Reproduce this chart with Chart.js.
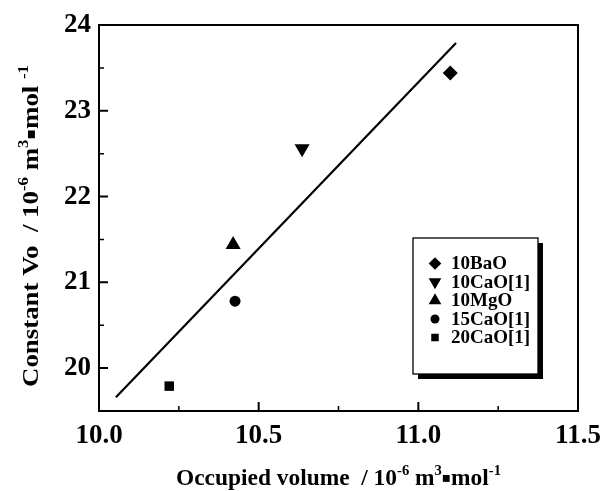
<!DOCTYPE html>
<html><head><meta charset="utf-8">
<script src="https://cdn.jsdelivr.net/npm/chart.js@4/dist/chart.umd.min.js"></script>
<style>html,body{margin:0;padding:0;background:#fff}#wrap{width:604px;height:491px;position:relative}</style>
</head><body><div id="wrap"><canvas id="c" width="604" height="491"></canvas></div>
<script>
// ---- data ----
const categories = ['10BaO', '10CaO[1]', '10MgO', '15CaO[1]', '20CaO[1]'];
const xValues = [11.10, 10.636, 10.42, 10.426, 10.22];
const yValues = [23.44, 22.56, 21.44, 20.78, 19.79];
const fitX = [10.053, 11.118];
const fitY = [19.66, 23.79];
const xTicks = [10.0, 10.5, 11.0, 11.5];
const yTicks = [20, 21, 22, 23, 24];
const xMinorTicks = [10.25, 10.75, 11.25];
const yMinorTicks = [20.5, 21.5, 22.5, 23.5];
const xTitle = [['Occupied volume  / 10', 0], ['-6', 1], [' m', 0], ['3', 1], ['\u25AA', 2], ['mol', 0], ['-1', 1]];
const yTitle = [['Constant Vo  / 10', 0], ['-6', 1], [' m', 0], ['3', 1], ['\u25AA', 2], ['mol ', 0], ['-1', 1]];

// ---- styles ----
const SERIF = '"Liberation Serif","Times New Roman",serif';
const markerStyle = [
  {pointStyle: 'rectRot', r: 7.5, rot: 0, lr: 6.3},
  {pointStyle: 'triangle', r: 8.7, rot: 180, lr: 7.3},
  {pointStyle: 'triangle', r: 8.7, rot: 0, lr: 7.3},
  {pointStyle: 'circle', r: 5.5, rot: 0, lr: 4.5},
  {pointStyle: 'rect', r: 6.7, rot: 0, lr: 5.3}
];

const datasets = categories.map((name, i) => ({
  label: name,
  data: [{x: xValues[i], y: yValues[i]}],
  pointStyle: markerStyle[i].pointStyle,
  pointRadius: markerStyle[i].r,
  pointRotation: markerStyle[i].rot,
  backgroundColor: '#000',
  borderColor: '#000',
  borderWidth: 0,
  showLine: false
}));
datasets.push({
  label: 'fit',
  data: fitX.map((x, i) => ({x, y: fitY[i]})),
  showLine: true,
  pointRadius: 0,
  borderColor: '#000',
  borderWidth: 2.2,
  fill: false
});

function drawShape(ctx, style, r, rot, x, y) {
  ctx.beginPath();
  if (style === 'circle') { ctx.arc(x, y, r, 0, Math.PI * 2); }
  else if (style === 'rect') { const s = Math.SQRT1_2 * r; ctx.rect(x - s, y - s, 2 * s, 2 * s); }
  else if (style === 'rectRot') { ctx.moveTo(x - r, y); ctx.lineTo(x, y - r); ctx.lineTo(x + r, y); ctx.lineTo(x, y + r); ctx.closePath(); }
  else if (style === 'triangle') {
    let a = rot * Math.PI / 180;
    ctx.moveTo(x + Math.sin(a) * r, y - Math.cos(a) * r);
    a += 2 * Math.PI / 3; ctx.lineTo(x + Math.sin(a) * r, y - Math.cos(a) * r);
    a += 2 * Math.PI / 3; ctx.lineTo(x + Math.sin(a) * r, y - Math.cos(a) * r);
    ctx.closePath();
  }
  ctx.fill();
}

function richWidth(ctx, segs, base, sup, dot) {
  let w = 0;
  segs.forEach(([t, k]) => { ctx.font = k === 0 ? base : (k === 1 ? sup : dot); w += ctx.measureText(t).width; });
  return w;
}
// draws rich text centered at (0,0) baseline, stretched to targetWidth along the text
function drawRich(ctx, segs, targetWidth, base, sup, dot) {
  const w = richWidth(ctx, segs, base, sup, dot);
  const sx = targetWidth / w;
  ctx.save();
  ctx.scale(sx, 1);
  let x = -w / 2;
  ctx.textAlign = 'left'; ctx.textBaseline = 'alphabetic'; ctx.fillStyle = '#000';
  segs.forEach(([t, k]) => {
    ctx.font = k === 0 ? base : (k === 1 ? sup : dot);
    const dy = k === 1 ? -10 : (k === 2 ? -3 : 0);
    ctx.fillText(t, x, dy);
    x += ctx.measureText(t).width;
  });
  ctx.restore();
}

const decor = {
  id: 'decor',
  afterDraw(chart) {
    const ctx = chart.ctx, a = chart.chartArea;
    const xs = chart.scales.x, ys = chart.scales.y;
    ctx.save();
    ctx.strokeStyle = '#000';
    ctx.lineWidth = 2;
    ctx.strokeRect(a.left, a.top, a.right - a.left, a.bottom - a.top);
    // inward ticks
    ctx.beginPath();
    xTicks.forEach(v => { const p = xs.getPixelForValue(v); ctx.moveTo(p, a.bottom); ctx.lineTo(p, a.bottom - 9); });
    yTicks.forEach(v => { const p = ys.getPixelForValue(v); ctx.moveTo(a.left, p); ctx.lineTo(a.left + 9, p); });
    ctx.stroke();
    ctx.lineWidth = 1.5;
    ctx.beginPath();
    xMinorTicks.forEach(v => { const p = xs.getPixelForValue(v); ctx.moveTo(p, a.bottom); ctx.lineTo(p, a.bottom - 5); });
    yMinorTicks.forEach(v => { const p = ys.getPixelForValue(v); ctx.moveTo(a.left, p); ctx.lineTo(a.left + 5, p); });
    ctx.stroke();

    // axis titles
    const base = 'bold 24px ' + SERIF, sup = 'bold 15px ' + SERIF, dot = 'bold 14px "DejaVu Sans",sans-serif';
    ctx.save();
    ctx.translate((a.left + a.right) / 2, 485);
    drawRich(ctx, xTitle, 325, base, sup, dot);
    ctx.restore();
    ctx.save();
    ctx.translate(38, 226);
    ctx.rotate(-Math.PI / 2);
    drawRich(ctx, yTitle, 322, base, sup, dot);
    ctx.restore();

    // legend
    const L = 413, T = 238, R = 538, B = 374;
    ctx.fillStyle = '#000';
    ctx.fillRect(L + 5, T + 5, R - L, B - T);
    ctx.fillStyle = '#fff';
    ctx.fillRect(L, T, R - L, B - T);
    ctx.lineWidth = 1.3;
    ctx.strokeRect(L, T, R - L, B - T);
    ctx.font = 'bold 19px ' + SERIF;
    ctx.textBaseline = 'middle'; ctx.textAlign = 'left';
    categories.forEach((name, i) => {
      const y = 263.5 + i * 18.5;
      ctx.fillStyle = '#000';
      drawShape(ctx, markerStyle[i].pointStyle, markerStyle[i].lr, markerStyle[i].rot, 435, y);
      ctx.fillText(name, 451, y + 1);
    });
    ctx.restore();
  }
};

new Chart(document.getElementById('c'), {
  type: 'scatter',
  data: {datasets},
  options: {
    responsive: false,
    animation: false,
    devicePixelRatio: 1,
    layout: {padding: {left: 0, top: 25, right: 26, bottom: 0}},
    plugins: {legend: {display: false}, tooltip: {enabled: false}, title: {display: false}},
    scales: {
      x: {
        type: 'linear', min: 10, max: 11.5,
        afterBuildTicks: s => { s.ticks = xTicks.map(v => ({value: v})); },
        afterFit: s => { s.height = 80; s.paddingLeft = 0; s.paddingRight = 0; },
        grid: {display: false, drawTicks: false},
        border: {display: false},
        ticks: {color: '#000', padding: 9, autoSkip: false, maxRotation: 0,
          font: {family: SERIF, size: 27, weight: 'bold'},
          callback: v => Number(v).toFixed(1)}
      },
      y: {
        type: 'linear', min: 19.5, max: 24,
        afterBuildTicks: s => { s.ticks = yTicks.map(v => ({value: v})); },
        afterFit: s => { s.width = 99; s.paddingTop = 0; s.paddingBottom = 0; },
        grid: {display: false, drawTicks: false},
        border: {display: false},
        ticks: {color: '#000', padding: 8, autoSkip: false,
          font: {family: SERIF, size: 27, weight: 'bold'},
          callback: v => String(v)}
      }
    }
  },
  plugins: [decor]
});
</script>
</body></html>
